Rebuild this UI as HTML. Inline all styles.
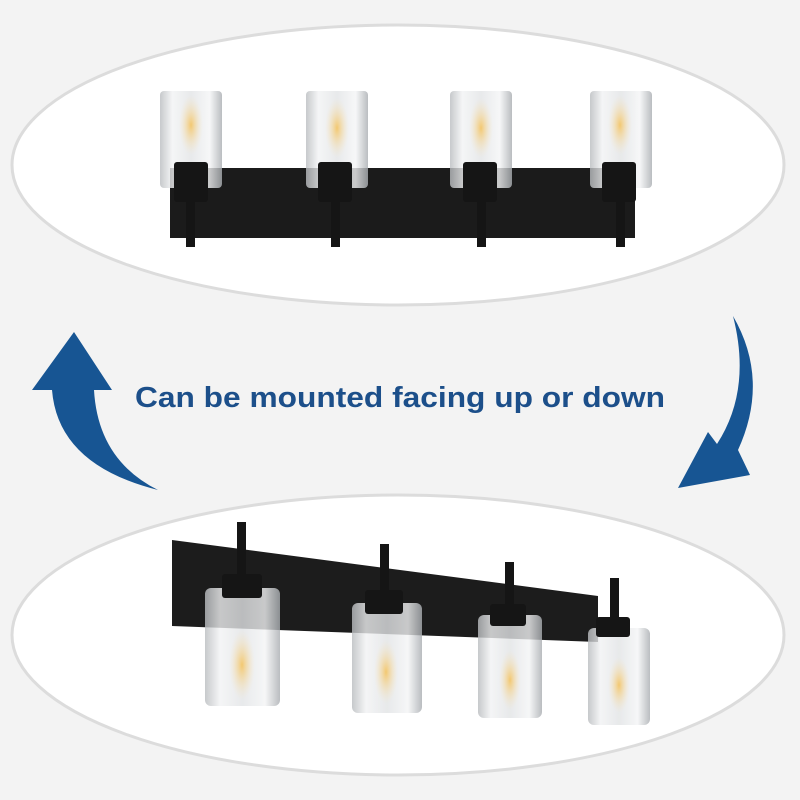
<!DOCTYPE html>
<html><head><style>html,body{margin:0;padding:0;background:#f3f3f3}svg{display:block}</style></head>
<body>
<svg width="800" height="800" viewBox="0 0 800 800" xmlns="http://www.w3.org/2000/svg">
<defs>
<linearGradient id="gl" x1="0" x2="1">
<stop offset="0" stop-color="#b9bcbf"/><stop offset="0.2" stop-color="#f2f3f4"/><stop offset="0.5" stop-color="#e2e4e6"/><stop offset="0.8" stop-color="#f4f5f6"/><stop offset="1" stop-color="#a9adb1"/>
</linearGradient>
<radialGradient id="fil" cx="0.5" cy="0.5" r="0.5"><stop offset="0" stop-color="#f3c870"/><stop offset="1" stop-color="#f6e7c8" stop-opacity="0"/></radialGradient>
</defs>
<rect width="800" height="800" fill="#f3f3f3"/>
<ellipse cx="398" cy="165" rx="386" ry="140" fill="#fff" stroke="#dcdcdc" stroke-width="3"/>
<ellipse cx="398" cy="635" rx="386" ry="140" fill="#fff" stroke="#dcdcdc" stroke-width="3"/>

<!-- top fixture -->
<rect x="170" y="168" width="465" height="70" fill="#1b1b1b"/>
<g opacity="0.8">
<rect x="160" y="91" width="62" height="97" rx="4" fill="url(#gl)"/>
<rect x="306" y="91" width="62" height="97" rx="4" fill="url(#gl)"/>
<rect x="450" y="91" width="62" height="97" rx="4" fill="url(#gl)"/>
<rect x="590" y="91" width="62" height="97" rx="4" fill="url(#gl)"/>
</g>
<g fill="url(#fil)">
<ellipse cx="191" cy="125" rx="12" ry="30"/><ellipse cx="337" cy="128" rx="12" ry="30"/><ellipse cx="481" cy="128" rx="12" ry="30"/><ellipse cx="620" cy="125" rx="12" ry="30"/>
</g>
<g fill="#151515">
<rect x="174" y="162" width="34" height="40" rx="3"/><rect x="318" y="162" width="34" height="40" rx="3"/><rect x="463" y="162" width="34" height="40" rx="3"/><rect x="602" y="162" width="34" height="40" rx="3"/>
<rect x="186" y="185" width="9" height="62"/><rect x="331" y="185" width="9" height="62"/><rect x="477" y="185" width="9" height="62"/><rect x="616" y="185" width="9" height="62"/>
</g>

<!-- text -->
<text x="400" y="407" text-anchor="middle" font-family="Liberation Sans, Arial, sans-serif" font-weight="bold" font-size="29" fill="#1c4f8a" textLength="530" lengthAdjust="spacingAndGlyphs">Can be mounted facing up or down</text>

<!-- arrows -->
<path d="M74,332 L32,390 L52,390 Q58,465 158,490 Q98,460 94,390 L112,390 Z" fill="#175593"/>
<path d="M733,316 Q770,380 738,450 L750,475 L678,488 L708,432 L717,444 Q752,390 733,316 Z" fill="#175593"/>

<!-- bottom fixture -->
<polygon points="172,540 598,596 598,642 172,626" fill="#1c1c1c"/>
<g opacity="0.8">
<rect x="205" y="588" width="75" height="118" rx="6" fill="url(#gl)"/>
<rect x="352" y="603" width="70" height="110" rx="6" fill="url(#gl)"/>
<rect x="478" y="615" width="64" height="103" rx="6" fill="url(#gl)"/>
<rect x="588" y="628" width="62" height="97" rx="6" fill="url(#gl)"/>
</g>
<g fill="url(#fil)">
<ellipse cx="242" cy="665" rx="13" ry="35"/><ellipse cx="386" cy="672" rx="12" ry="32"/><ellipse cx="510" cy="680" rx="11" ry="30"/><ellipse cx="619" cy="685" rx="11" ry="28"/>
</g>
<g fill="#151515">
<rect x="237" y="522" width="9" height="65"/><rect x="380" y="544" width="9" height="60"/><rect x="505" y="562" width="9" height="55"/><rect x="610" y="578" width="9" height="52"/>
<rect x="222" y="574" width="40" height="24" rx="3"/><rect x="365" y="590" width="38" height="24" rx="3"/><rect x="490" y="604" width="36" height="22" rx="3"/><rect x="596" y="617" width="34" height="20" rx="3"/>
</g>
</svg>
</body></html>
